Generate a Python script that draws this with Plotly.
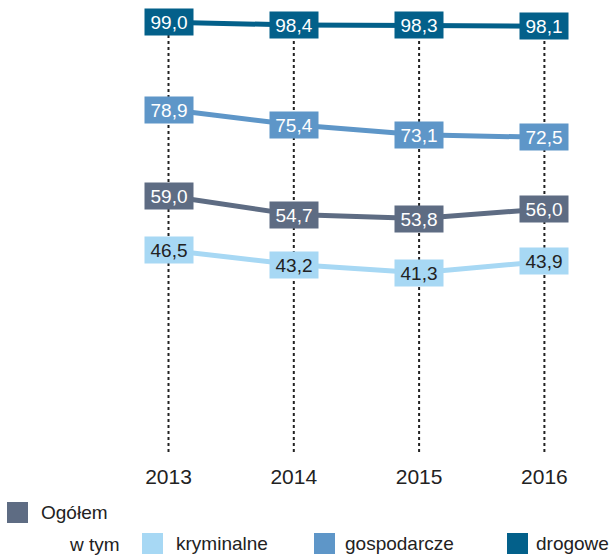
import plotly.graph_objects as go

years = [2013, 2014, 2015, 2016]
series_names = ["Ogółem", "kryminalne", "gospodarcze", "drogowe"]
ogolem = [59.0, 54.7, 53.8, 56.0]
kryminalne = [46.5, 43.2, 41.3, 43.9]
gospodarcze = [78.9, 75.4, 73.1, 72.5]
drogowe = [99.0, 98.4, 98.3, 98.1]

colors = {"Ogółem": "#5e6c83", "kryminalne": "#a7d8f4", "gospodarcze": "#5e96c8", "drogowe": "#03608a"}
text_colors = {"Ogółem": "white", "kryminalne": "#222222", "gospodarcze": "white", "drogowe": "white"}
data = {"Ogółem": ogolem, "kryminalne": kryminalne, "gospodarcze": gospodarcze, "drogowe": drogowe}

W, H = 611, 555
plot_bottom = 452  # px
FONT = "Liberation Sans, Arial, sans-serif"

fig = go.Figure()

# dotted vertical guide lines from axis up to top value of each year
tops = [max(v) for v in zip(ogolem, kryminalne, gospodarcze, drogowe)]
for yr, top in zip(years, tops):
    fig.add_trace(go.Scatter(x=[yr, yr], y=[0, top], mode="lines",
                             line=dict(color="#222222", width=2, dash="dot"),
                             hoverinfo="skip", showlegend=False))

for name in ["kryminalne", "Ogółem", "gospodarcze", "drogowe"]:
    fig.add_trace(go.Scatter(x=years, y=data[name], mode="lines", name=name,
                             line=dict(color=colors[name], width=5), showlegend=False))

for name in series_names:
    for yr, v in zip(years, data[name]):
        fig.add_annotation(x=yr, y=v, xref="x", yref="y", showarrow=False,
                           text=f"{v:.1f}".replace(".", ","),
                           font=dict(family=FONT, size=19, color=text_colors[name]),
                           bgcolor=colors[name], width=46, height=24, borderpad=1,
                           align="center", valign="middle")

# custom legend (paper coordinates)
def py(p):
    return (plot_bottom - p) / plot_bottom

def px(p):
    return p / W

legend_items = [
    ("Ogółem", 7, 502, 39),
    ("kryminalne", 142, 533, 174),
    ("gospodarcze", 314, 533, 343),
    ("drogowe", 507, 533, 534),
]
SQ = 21
for name, x0, y0, tx in legend_items:
    fig.add_shape(type="rect", xref="paper", yref="paper",
                  x0=px(x0), x1=px(x0 + SQ), y0=py(y0 + SQ), y1=py(y0),
                  fillcolor=colors[name], line=dict(width=0))
    fig.add_annotation(xref="paper", yref="paper", x=px(tx), y=py(y0 + SQ / 2),
                       xanchor="left", yanchor="middle", showarrow=False,
                       text=name, font=dict(family=FONT, size=19, color="#222222"))
fig.add_annotation(xref="paper", yref="paper", x=px(67), y=py(544),
                   xanchor="left", yanchor="middle", showarrow=False,
                   text="w tym", font=dict(family=FONT, size=19, color="#222222"))

scale = 125.3
x0r = 2013 - 168.5 / scale
x1r = x0r + W / scale

fig.update_layout(
    width=W, height=H,
    margin=dict(l=0, r=0, t=0, b=H - plot_bottom),
    paper_bgcolor="white", plot_bgcolor="white",
    showlegend=False,
    xaxis=dict(range=[x0r, x1r], tickvals=years, ticktext=[str(y) for y in years],
               showgrid=False, zeroline=False, showline=False,
               ticks="outside", ticklen=6, tickcolor="rgba(0,0,0,0)",
               tickfont=dict(family=FONT, size=21, color="#222222"), fixedrange=True),
    yaxis=dict(range=[0, plot_bottom / 4.34], visible=False, showgrid=False,
               zeroline=False, fixedrange=True),
)

fig.write_html("out.html", config={"displayModeBar": False},
               post_script="document.body.style.margin='0px';document.body.style.overflow='hidden';")
